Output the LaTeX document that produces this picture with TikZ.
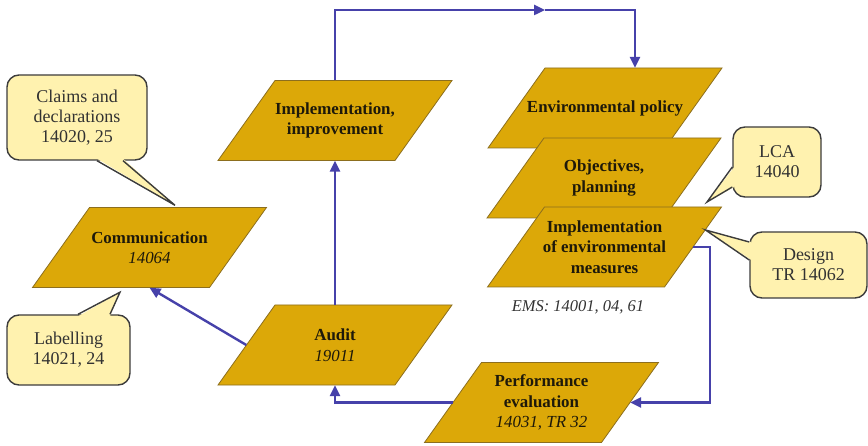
\documentclass[tikz,border=0pt]{standalone}
\usepackage{fontspec}
\setmainfont{Liberation Serif}
\usetikzlibrary{arrows.meta,calc}

\definecolor{gold}{RGB}{220,168,8}
\definecolor{goldedge}{RGB}{140,110,30}
\definecolor{callfill}{RGB}{255,242,175}
\definecolor{calledge}{RGB}{60,60,60}
\definecolor{calltext}{RGB}{50,50,50}
\definecolor{inkdark}{RGB}{30,25,10}
\definecolor{flowblue}{RGB}{70,65,170}

% parallelogram step: fill the slanted shape, then put the named text node on it
\newcommand\parabox[3]{%
  \filldraw[parafill] (#2) ++(-60,40) -- ++(177,0) -- ++(-57,-80) -- ++(-177,0) -- cycle;
  \node[paratext] (#1) at (#2) {#3};}

% callout tail: base points #1,#3 on the box edge, tip #2, #4 = inward shift
\newcommand\calltail[4]{%
  \fill[callfill] ($(#1)+(#4)$) -- (#2) -- ($(#3)+(#4)$) -- cycle;
  \draw[calledge,line width=1.4pt] (#1) -- (#2) -- (#3);}

\begin{document}
\begin{tikzpicture}[x=1pt,y=1pt,
  parafill/.style={fill=gold,draw=goldedge,line width=0.8pt},
  paratext/.style={rectangle,minimum width=177pt,minimum height=80pt,inner sep=0pt,
    align=center,font=\fontsize{16.9}{20.5}\selectfont\bfseries,text=inkdark},
  callbox/.style={rectangle,rounded corners=12pt,fill=callfill,draw=calledge,
    line width=1.4pt,align=center,inner sep=0pt,
    font=\fontsize{18}{20}\selectfont,text=calltext},
  flow/.style={draw=flowblue,line width=2.4pt},
  flowtip/.style={-{Triangle[length=11pt,width=10pt]}},
  numtext/.style={font=\fontsize{16.5}{20}\selectfont\itshape,text=calltext}]

\useasboundingbox (0,0) rectangle (868,445);

% process steps
\parabox{comm}{149.5,197.5}{Communication\\{\mdseries\itshape 14064}}
\parabox{impl}{335,324.5}{Implementation,\\improvement}
\parabox{audit}{335,100}{Audit\\{\mdseries\itshape 19011}}
\parabox{envpol}{605,337}{Environmental policy}
\parabox{obj}{604,267}{Objectives,\\planning}
\parabox{implenv}{604.5,198}{Implementation\\of environmental\\measures}
\parabox{perf}{541.5,42.5}{Performance\\evaluation\\{\mdseries\itshape 14031, TR 32}}

\node[numtext] (ems) at (578,138) {EMS: 14001, 04, 61};

% callouts
\node[callbox,minimum width=140pt,minimum height=85pt] (claims) at (77,327.5)
  {Claims and\\declarations\\14020, 25};
\node[callbox,minimum width=123pt,minimum height=70pt] (labelling) at (68.5,95)
  {Labelling\\14021, 24};
\node[callbox,minimum width=88pt,minimum height=70pt] (lca) at (777,283)
  {LCA\\14040};
\node[callbox,minimum width=117pt,minimum height=66pt] (design) at (808.5,180)
  {Design\\TR 14062};

\coordinate (ca) at ($(claims.south)+(20,0)$);
\coordinate (cb) at ($(claims.south)+(46,0)$);
\coordinate (ctip) at ($(comm.north)+(25.5,2)$);
\calltail{ca}{ctip}{cb}{0,2}

\coordinate (la) at ($(labelling.north)+(9.5,0)$);
\coordinate (lb) at ($(labelling.north)+(41.5,0)$);
\coordinate (ltip) at ($(comm.south)+(-29.5,-4.5)$);
\calltail{la}{ltip}{lb}{0,-2}

\coordinate (lcaa) at ($(lca.west)+(0,-5)$);
\coordinate (lcab) at ($(lca.west)+(0,-25)$);
\coordinate (lcatip) at (707,243);
\calltail{lcaa}{lcatip}{lcab}{2,0}

\coordinate (da) at ($(design.west)+(0,23)$);
\coordinate (db) at ($(design.west)+(0,5)$);
\coordinate (dtip) at (705.5,215);
\calltail{da}{dtip}{db}{2,0}

% flow connectors
\coordinate (mid) at (545,435);
\coordinate (envin) at ($(envpol.north)+(30,0)$);
\coordinate (rx) at (710,0);
\draw[flow,flowtip] (impl.north) |- (mid);
\draw[flow,flowtip] (mid) -| (envin);
\draw[flow,flowtip] (implenv.east) -- (implenv.east -| rx) |- (perf.east);
\draw[flow,flowtip] (perf.west) -| (audit.south);
\draw[flow,flowtip] (audit.north) -- (impl.south);
\draw[flow,flowtip] (audit.west) -- (comm.south);
\end{tikzpicture}
\end{document}
